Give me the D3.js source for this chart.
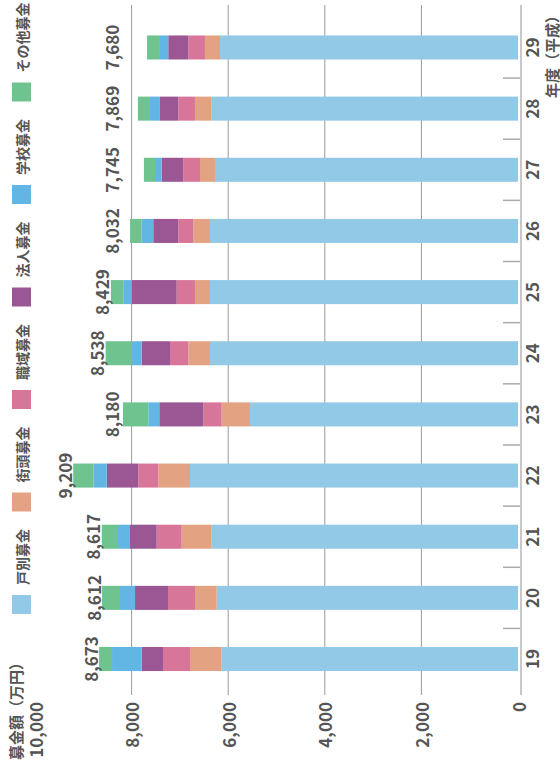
<!DOCTYPE html>
<html><head><meta charset="utf-8">
<script src="https://cdn.jsdelivr.net/npm/d3@7"></script>
<style>body{margin:0;background:#fff}</style>
</head><body>
<svg id="c" width="560" height="772"></svg>
<script>
// Data (fiscal year, Heisei)
const years = ["19","20","21","22","23","24","25","26","27","28","29"];
const seriesNames = ["戸別募金","街頭募金","職域募金","法人募金","学校募金","その他募金"];
const seriesColors = ["#92c9e6","#e3a383","#d8769a","#9b5694","#62b6e4","#6fc38f"];
const kobetsu  = [6135, 6238, 6342, 6791, 5549, 6377, 6377, 6377, 6273, 6342, 6170];
const gaitou   = [655, 449, 621, 656, 586, 449, 311, 346, 311, 346, 311];
const shokuiki = [560, 559, 518, 414, 381, 379, 379, 311, 346, 346, 346];
const houjin   = [440, 683, 552, 654, 911, 586, 932, 518, 447, 379, 414];
const gakkou   = [615, 311, 248, 277, 228, 207, 174, 240, 139, 207, 172];
const sonota   = [268, 372, 336, 417, 525, 540, 256, 240, 229, 249, 267];
const totals   = [8673, 8612, 8617, 9209, 8180, 8538, 8429, 8032, 7745, 7869, 7680];
const valueTicks = [0, 2000, 4000, 6000, 8000, 10000];
const yTitle = "募金額（万円）";
const xTitle = "年度（平成）";

const seriesValues = [kobetsu, gaitou, shokuiki, houjin, gakkou, sonota];
const rows = years.map((yr, i) => {
  const r = {year: yr};
  seriesNames.forEach((n, k) => r[n] = seriesValues[k][i]);
  return r;
});
const stacked = d3.stack().keys(seriesNames)(rows);

const W = 772, H = 560;
const font = "'Noto Sans CJK JP','Noto Sans',sans-serif";
const svg = d3.select("#c");
const g = svg.append("g").attr("transform", `translate(0,${W}) rotate(-90)`);

const x = d3.scaleBand().domain(years).range([82.4, 755.1]).paddingInner(0.607).paddingOuter(0.3035);
const y = d3.scaleLinear().domain([0, 10000]).range([518, 35]);

// gridlines
g.append("g").selectAll("line").data(valueTicks.filter(v => v > 0 && v < 10000)).join("line")
  .attr("x1", 77).attr("x2", 767).attr("y1", d => y(d)).attr("y2", d => y(d))
  .attr("stroke", "#9a9a9a").attr("stroke-width", 1);

// value tick labels
g.append("g").selectAll("text").data(valueTicks).join("text")
  .attr("x", 70).attr("y", d => y(d)).attr("text-anchor", "end").attr("dominant-baseline", "central")
  .attr("font-family", font).attr("font-size", 17).attr("font-weight", "bold").attr("fill", "#555")
  .text(d => d3.format(",")(d));

// bars
g.append("g").selectAll("g").data(stacked).join("g")
  .attr("fill", (d, i) => seriesColors[i])
  .selectAll("rect").data(d => d).join("rect")
  .attr("x", d => x(d.data.year)).attr("width", x.bandwidth())
  .attr("y", d => y(d[1])).attr("height", d => y(d[0]) - y(d[1]));

// category axis
g.append("line").attr("x1", 77).attr("x2", 767).attr("y1", 521).attr("y2", 521)
  .attr("stroke", "#c8c8c8").attr("stroke-width", 2);
const step = x.step();
g.append("g").selectAll("line").data(years.slice(1)).join("line")
  .attr("x1", d => x(d) + x.bandwidth() / 2 - step / 2).attr("x2", d => x(d) + x.bandwidth() / 2 - step / 2)
  .attr("y1", 503).attr("y2", 520).attr("stroke", "#aaa").attr("stroke-width", 1.5);
g.append("g").selectAll("text").data(years).join("text")
  .attr("x", d => x(d) + x.bandwidth() / 2).attr("y", 531).attr("text-anchor", "middle").attr("dominant-baseline", "central")
  .attr("font-family", font).attr("font-size", 17).attr("font-weight", "bold").attr("fill", "#555")
  .text(d => d);

// total labels
g.append("g").selectAll("text").data(years).join("text")
  .attr("x", d => x(d) + x.bandwidth() / 2)
  .attr("y", (d, i) => y(Math.max(totals[i], 8240)) - 9)
  .attr("text-anchor", "middle").attr("dominant-baseline", "central")
  .attr("font-family", font).attr("font-size", 17).attr("font-weight", "bold").attr("fill", "#555")
  .text((d, i) => d3.format(",")(totals[i]));

// titles
g.append("text").attr("x", 12).attr("y", 15).attr("dominant-baseline", "central")
  .attr("font-family", font).attr("font-size", 15).attr("font-weight", "bold").attr("fill", "#555").text(yTitle);
g.append("text").attr("x", 764).attr("y", 551).attr("text-anchor", "end").attr("dominant-baseline", "central")
  .attr("font-family", font).attr("font-size", 15).attr("font-weight", "bold").attr("fill", "#555").text(xTitle);

// legend
const lg = g.append("g").selectAll("g").data(seriesNames).join("g")
  .attr("transform", (d, i) => `translate(${158 + i * 102.5},12)`);
lg.append("rect").attr("width", 19).attr("height", 19).attr("fill", (d, i) => seriesColors[i]);
lg.append("text").attr("x", 29).attr("y", 10).attr("dominant-baseline", "central")
  .attr("font-family", font).attr("font-size", 14).attr("font-weight", "bold").attr("fill", "#555").text(d => d);
</script>
</body></html>
